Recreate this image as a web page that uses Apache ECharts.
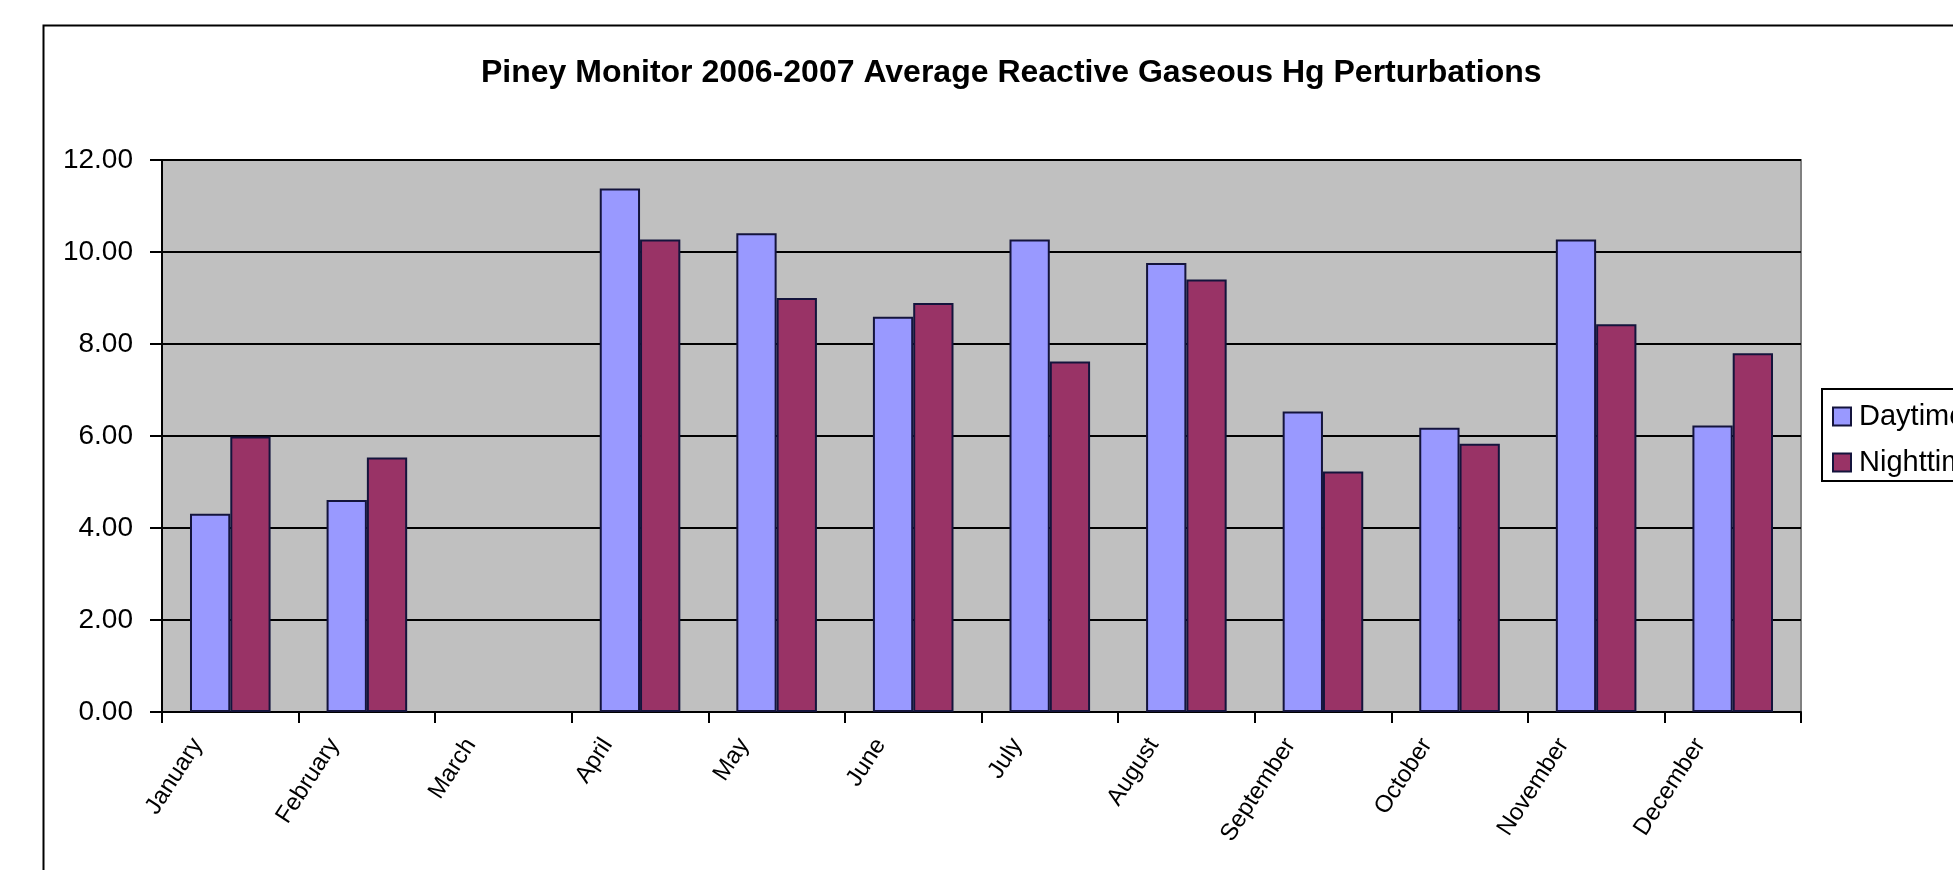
<!DOCTYPE html>
<html>
<head>
<meta charset="utf-8">
<title>Piney Monitor 2006-2007 Average Reactive Gaseous Hg Perturbations</title>
<script src="https://cdn.jsdelivr.net/npm/echarts@6/dist/echarts.min.js"></script>
<style>
  html, body { margin: 0; padding: 0; background: #fff; }
  #chart { width: 1953px; height: 870px; }
</style>
</head>
<body>
<div id="chart"></div>
<script>
// data
const months = ['January', 'February', 'March', 'April', 'May', 'June',
  'July', 'August', 'September', 'October', 'November', 'December'];
const daytime = [4.31, 4.61, null, 11.38, 10.41, 8.59, 10.27, 9.76, 6.53, 6.18, 10.27, 6.23];
const nighttime = [5.99, 5.53, null, 10.27, 9.0, 8.89, 7.62, 9.40, 5.23, 5.83, 8.43, 7.80];
const yMin = 0;
const yMax = 12;
const yStep = 2;

const font = 'Liberation Sans, Arial, sans-serif';
const barBorder = '#14143c';

const chart = echarts.init(document.getElementById('chart'));

chart.setOption({
  backgroundColor: '#ffffff',
  animation: false,
  title: {
    text: 'Piney Monitor 2006-2007 Average Reactive Gaseous Hg Perturbations',
    left: 481,
    top: 57,
    padding: 0,
    textStyle: {
      fontFamily: font,
      fontSize: 32,
      fontWeight: 'bold',
      color: '#000',
      lineHeight: 32,
    },
  },
  graphic: [
    {
      // outer chart border, runs off the right and bottom edge
      type: 'rect',
      left: 41,
      top: 23,
      shape: { width: 2000, height: 900 },
      style: { fill: 'none', stroke: '#000', lineWidth: 2 },
      silent: true,
    },
  ],
  legend: {
    orient: 'vertical',
    left: 1822,
    top: 389,
    padding: [13, 10, 4, 10],
    itemGap: 17,
    itemWidth: 18,
    itemHeight: 18,
    icon: 'rect',
    borderColor: '#000',
    borderWidth: 2,
    backgroundColor: '#fff',
    itemStyle: { borderColor: barBorder, borderWidth: 2 },
    textStyle: {
      fontFamily: font,
      fontSize: 29,
      lineHeight: 29,
      color: '#000',
      padding: [0, 0, 0, 3],
    },
    data: ['Daytime', 'Nighttime'],
  },
  grid: {
    left: 162,
    top: 160,
    right: 152,
    bottom: 158,
    show: true,
    backgroundColor: '#c0c0c0',
    borderColor: '#808080',
    borderWidth: 2,
  },
  xAxis: {
    type: 'category',
    data: months,
    boundaryGap: true,
    axisLine: { lineStyle: { color: '#000', width: 2 } },
    axisTick: { show: true, length: 11, lineStyle: { color: '#000', width: 2 } },
    axisLabel: {
      interval: 0,
      rotate: 57,
      margin: 26,
      // nudge the label ends a little left of the category centre, like Excel
      padding: [0, 20, 0, 0],
      verticalAlign: 'bottom',
      lineHeight: 52,
      fontFamily: font,
      fontSize: 24,
      color: '#000',
    },
  },
  yAxis: {
    type: 'value',
    min: yMin,
    max: yMax,
    interval: yStep,
    axisLine: { show: true, lineStyle: { color: '#000', width: 2 } },
    axisTick: { show: true, length: 12, lineStyle: { color: '#000', width: 2 } },
    axisLabel: {
      margin: 29,
      fontFamily: font,
      fontSize: 28,
      color: '#000',
      formatter: (v) => v.toFixed(2),
    },
    splitLine: { show: true, lineStyle: { color: '#000', width: 2 } },
  },
  series: [
    {
      name: 'Daytime',
      type: 'bar',
      data: daytime,
      barGap: '0%',
      barCategoryGap: '41%',
      itemStyle: { color: '#9999ff', borderColor: barBorder, borderWidth: 2 },
    },
    {
      name: 'Nighttime',
      type: 'bar',
      data: nighttime,
      barGap: '0%',
      barCategoryGap: '41%',
      itemStyle: { color: '#993366', borderColor: barBorder, borderWidth: 2 },
    },
  ],
});
</script>
</body>
</html>
